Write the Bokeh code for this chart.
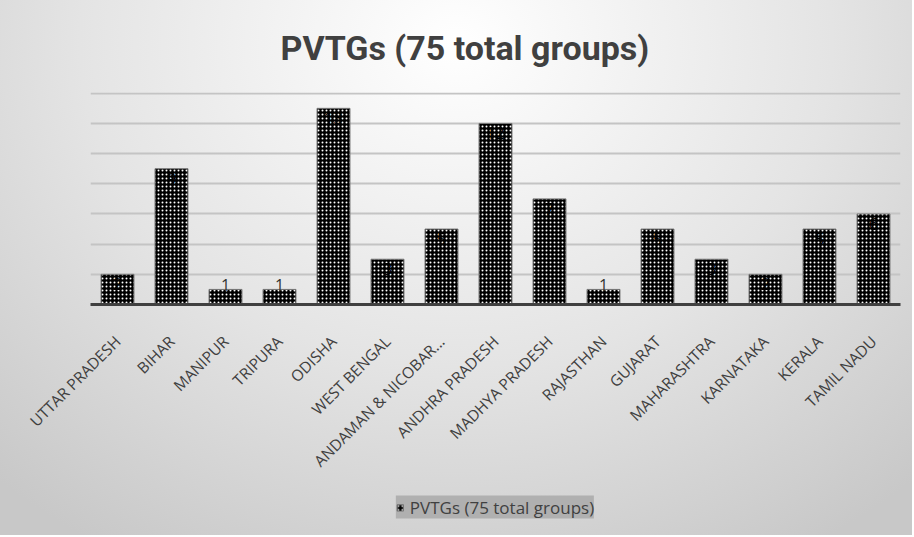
import math
from bokeh.plotting import figure
from bokeh.layouts import column
from bokeh.models import ColumnDataSource, Legend, LegendItem, SingleIntervalTicker
from bokeh.embed import file_html
from bokeh.resources import INLINE
from bokeh.core.properties import value

states = ["UTTAR PRADESH", "BIHAR", "MANIPUR", "TRIPURA", "ODISHA", "WEST BENGAL",
          "ANDAMAN & NICOBAR...", "ANDHRA PRADESH", "MADHYA PRADESH", "RAJASTHAN",
          "GUJARAT", "MAHARASHTRA", "KARNATAKA", "KERALA", "TAMIL NADU"]
counts = [2, 9, 1, 1, 13, 3, 5, 12, 7, 1, 5, 3, 2, 5, 6]
series_name = "PVTGs (75 total groups)"

src = ColumnDataSource(dict(state=states, count=counts, label=[str(c) for c in counts]))
inside = ColumnDataSource(dict(state=[s for s, c in zip(states, counts) if c > 1],
                               count=[c for c in counts if c > 1],
                               label=[str(c) for c in counts if c > 1]))
outside = ColumnDataSource(dict(state=[s for s, c in zip(states, counts) if c <= 1],
                                count=[c for c in counts if c <= 1],
                                label=[str(c) for c in counts if c <= 1]))

bar_style = dict(fill_color="black", line_color="#777777", line_width=1,
                 hatch_pattern="dot", hatch_color="white", hatch_scale=4, hatch_weight=1)

W = 912
p = figure(width=W, height=486, x_range=states, y_range=(0, 14.05),
           output_backend="svg", toolbar_location=None,
           min_border_left=90, min_border_right=12, min_border_top=92, min_border_bottom=182)

p.title.text = series_name
p.title.align = "left"
p.title.offset = 190
p.title.text_font = "Roboto"
p.title.text_font_size = "34px"
p.title.text_font_style = "bold"
p.title.text_color = "#404040"
p.title.standoff = 49

p.background_fill_alpha = 0
p.border_fill_alpha = 0
p.outline_line_color = None

bars = p.vbar(x="state", top="count", width=0.61, source=src, **bar_style)

p.text(x="state", y="count", text="label", source=inside, text_align="center",
       text_baseline="top", y_offset=4, text_font=value("Open Sans"),
       text_font_size="16px", text_color="black")
p.text(x="state", y="count", text="label", source=outside, text_align="center",
       text_baseline="bottom", y_offset=2, text_font=value("Open Sans"),
       text_font_size="16px", text_color="#333333")

p.yaxis.visible = False
p.ygrid.ticker = SingleIntervalTicker(interval=2)
p.ygrid.grid_line_color = "#c4c4c4"
p.ygrid.grid_line_width = 2
p.xgrid.grid_line_color = None

ax = p.xaxis[0]
ax.axis_line_color = "#404040"
ax.axis_line_width = 3
ax.major_tick_line_color = None
ax.minor_tick_line_color = None
ax.major_label_orientation = math.pi / 4
ax.major_label_standoff = 28
ax.major_label_text_font = "Open Sans"
ax.major_label_text_font_size = "15.5px"
ax.major_label_text_color = "#404040"

# legend strip below the chart (series renderer kept hidden there; only its swatch shows)
lg = figure(width=W, height=49, x_range=states, y_range=(0, 14.05),
            output_backend="svg", toolbar_location=None,
            min_border_left=0, min_border_right=0, min_border_top=0, min_border_bottom=7)
lg.axis.visible = False
lg.grid.visible = False
lg.background_fill_alpha = 0
lg.border_fill_alpha = 0
lg.outline_line_color = None
swatch = lg.vbar(x="state", top="count", width=0.6, source=src, visible=False, **bar_style)

legend = Legend(items=[LegendItem(label=series_name, renderers=[swatch])],
                location="center", orientation="horizontal",
                background_fill_color="#b0b0b0", background_fill_alpha=1,
                border_line_color=None, label_text_font="Open Sans",
                label_text_font_size="17px", label_text_color="#404040",
                glyph_width=8, glyph_height=8, padding=7, margin=0, label_standoff=6,
                label_height=20)
lg.add_layout(legend, "center")

layout = column(p, lg, spacing=0)
layout.styles = {"background": "radial-gradient(ellipse 75% 110% at 50% 8%, #ffffff 0%, #e4e4e4 55%, #c8c8c8 100%)"}

open("out.html", "w").write(file_html(layout, INLINE))
